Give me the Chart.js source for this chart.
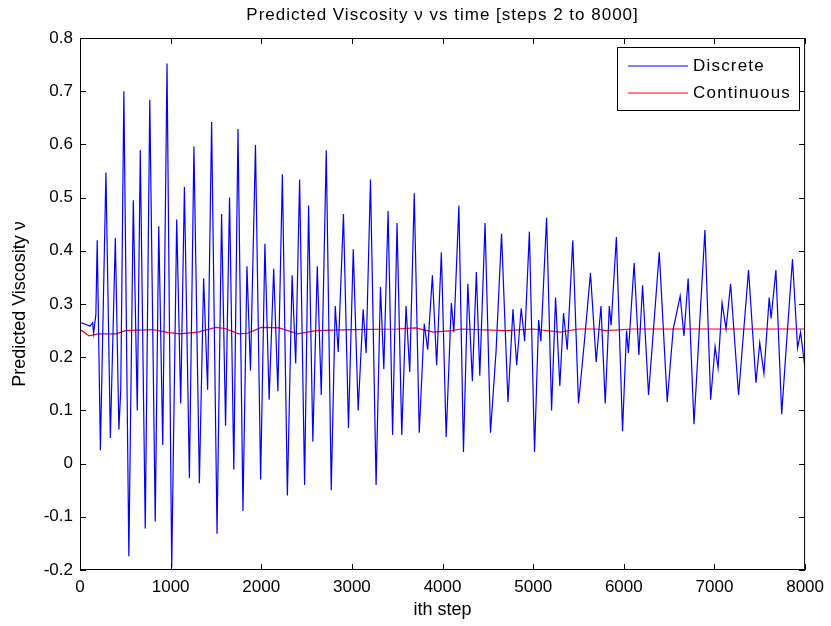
<!DOCTYPE html>
<html>
<head>
<meta charset="utf-8">
<script src="https://cdn.jsdelivr.net/npm/chart.js@4/dist/chart.umd.min.js"></script>
<style>
  html, body { margin: 0; padding: 0; background: #fff; }
  #wrap { width: 831px; height: 626px; }
</style>
</head>
<body>
<div id="wrap"><canvas id="viscChart" width="831" height="626"></canvas></div>
<script>
// Discrete series: steps and values (peaks / troughs)
const discreteSteps = [2, 60, 110, 140, 150, 175, 190, 225, 286, 335, 390, 429, 450, 484, 539, 588, 632, 665, 720, 770,
  830, 869, 913, 960, 1012, 1067, 1111, 1152, 1207, 1257, 1317, 1364, 1408, 1452, 1512, 1562, 1606, 1650, 1697, 1743,
  1798, 1842, 1881, 1936, 1993, 2040, 2087, 2137, 2183, 2233, 2288, 2340, 2380, 2423, 2478, 2522, 2569, 2618, 2662, 2717,
  2772, 2816, 2849, 2907, 2962, 3015, 3069, 3124, 3157, 3205, 3267, 3315, 3352, 3399, 3449, 3498, 3550, 3597, 3638, 3688,
  3743, 3798, 3836, 3888, 3935, 3987, 4040, 4097, 4125, 4180, 4231, 4279, 4329, 4373, 4411, 4469, 4529, 4590, 4651, 4722,
  4777, 4818, 4868, 4906, 4958, 5015, 5060, 5085, 5148, 5203, 5247, 5294, 5335, 5376, 5437, 5500, 5560, 5632, 5695, 5748,
  5795, 5840, 5860, 5918, 5986, 6030, 6050, 6114, 6166, 6207, 6273, 6391, 6479, 6545, 6622, 6663, 6710, 6774, 6895, 6958,
  7007, 7040, 7084, 7128, 7178, 7266, 7376, 7458, 7500, 7546, 7604, 7625, 7678, 7742, 7790, 7861, 7917, 7950, 8000];
const discreteValues = [0.265, 0.262, 0.258, 0.265, 0.245, 0.28, 0.42, 0.025, 0.547, 0.048, 0.424, 0.064, 0.14, 0.70, -0.174, 0.495, 0.10, 0.589, -0.122, 0.684,
  -0.109, 0.446, 0.035, 0.752, -0.195, 0.459, 0.113, 0.52, -0.027, 0.596, -0.037, 0.348, 0.139, 0.642, -0.132, 0.469, 0.071, 0.50, -0.011, 0.629,
  -0.089, 0.371, 0.175, 0.599, -0.03, 0.413, 0.12, 0.366, 0.136, 0.544, -0.06, 0.354, 0.188, 0.534, -0.04, 0.485, 0.041, 0.371, 0.129, 0.589,
  -0.05, 0.296, 0.21, 0.469, 0.067, 0.403, 0.10, 0.29, 0.208, 0.534, -0.04, 0.332, 0.178, 0.475, 0.054, 0.452, 0.054, 0.296, 0.172, 0.508,
  0.058, 0.263, 0.214, 0.354, 0.185, 0.397, 0.05, 0.302, 0.247, 0.485, 0.022, 0.338, 0.155, 0.36, 0.165, 0.452, 0.058, 0.21, 0.432, 0.116,
  0.29, 0.185, 0.292, 0.23, 0.436, 0.022, 0.27, 0.23, 0.462, 0.10, 0.312, 0.146, 0.283, 0.214, 0.42, 0.113, 0.22, 0.358, 0.191, 0.296,
  0.113, 0.296, 0.26, 0.426, 0.061, 0.25, 0.208, 0.377, 0.204, 0.335, 0.129, 0.397, 0.116, 0.253, 0.315, 0.24, 0.348, 0.074, 0.439, 0.12,
  0.22, 0.18, 0.302, 0.253, 0.338, 0.129, 0.364, 0.152, 0.227, 0.169, 0.312, 0.273, 0.364, 0.093, 0.214, 0.384, 0.217, 0.247, 0.178];

// Continuous series
const continuousSteps = [2, 100, 200, 400, 500, 800, 950, 1100, 1300, 1500, 1600, 1750, 1850, 2000, 2200, 2400, 2600, 3000,
  3500, 3700, 3900, 4100, 4200, 4700, 5000, 5300, 5500, 5700, 5800, 6100, 8000];
const continuousValues = [0.252, 0.24, 0.244, 0.244, 0.25, 0.252, 0.247, 0.244, 0.247, 0.256, 0.254, 0.244, 0.245, 0.256, 0.255, 0.244, 0.25, 0.252,
  0.253, 0.255, 0.247, 0.25, 0.253, 0.25, 0.253, 0.247, 0.253, 0.253, 0.25, 0.253, 0.253];

// Axis ticks
const xTicks = [0, 1000, 2000, 3000, 4000, 5000, 6000, 7000, 8000];
const yTicks = [-0.2, -0.1, 0, 0.1, 0.2, 0.3, 0.4, 0.5, 0.6, 0.7, 0.8];

const FONT = '"Liberation Sans", Arial, sans-serif';

function toPoints(xs, ys) {
  return xs.map((x, i) => ({ x: x, y: ys[i] }));
}

// Draws the MATLAB style box, inward ticks, title and legend
const matlabFrame = {
  id: 'matlabFrame',
  afterDraw(chart) {
    const ctx = chart.ctx;
    const a = chart.chartArea;
    const xs = chart.scales.x;
    const ys = chart.scales.y;
    ctx.save();
    ctx.strokeStyle = '#000';
    ctx.lineWidth = 1;
    ctx.strokeRect(a.left + 0.5, a.top + 0.5, a.right - a.left - 1, a.bottom - a.top - 1);

    const len = 6;
    ctx.beginPath();
    xTicks.forEach(t => {
      const px = Math.round(xs.getPixelForValue(t)) + 0.5;
      ctx.moveTo(px, a.bottom); ctx.lineTo(px, a.bottom - len);
      ctx.moveTo(px, a.top); ctx.lineTo(px, a.top + len);
    });
    yTicks.forEach(t => {
      const py = Math.round(ys.getPixelForValue(t)) + 0.5;
      ctx.moveTo(a.left, py); ctx.lineTo(a.left + len, py);
      ctx.moveTo(a.right, py); ctx.lineTo(a.right - len, py);
    });
    ctx.stroke();

    // title
    ctx.fillStyle = '#000';
    ctx.font = '17px ' + FONT;
    ctx.letterSpacing = '1px';
    ctx.textAlign = 'center';
    ctx.textBaseline = 'middle';
    ctx.fillText('Predicted Viscosity \u03bd vs time [steps 2 to 8000]', (a.left + a.right) / 2, 15);

    // legend box
    const lx = 617, ly = 47, lw = 182, lh = 63;
    ctx.fillStyle = '#fff';
    ctx.fillRect(lx, ly, lw, lh);
    ctx.strokeStyle = '#000';
    ctx.strokeRect(lx + 0.5, ly + 0.5, lw, lh);
    ctx.font = '17px ' + FONT;
    ctx.letterSpacing = '1.2px';
    ctx.textAlign = 'left';
    chart.data.datasets.forEach((ds, i) => {
      const yy = ly + 19 + i * 27;
      ctx.strokeStyle = ds.borderColor;
      ctx.lineWidth = 1.2;
      ctx.beginPath();
      ctx.moveTo(lx + 11, yy); ctx.lineTo(lx + 71, yy);
      ctx.stroke();
      ctx.fillStyle = '#000';
      ctx.fillText(ds.label, lx + 76, yy);
    });
    ctx.letterSpacing = '0px';
    ctx.restore();
  }
};

function renderChart() {
  const ctx = document.getElementById('viscChart').getContext('2d');

  new Chart(ctx, {
    type: 'line',
    data: {
      datasets: [{
        label: 'Discrete',
        data: toPoints(discreteSteps, discreteValues),
        borderColor: '#0000ff',
        borderWidth: 1.2,
        pointRadius: 0,
        tension: 0
      }, {
        label: 'Continuous',
        data: toPoints(continuousSteps, continuousValues),
        borderColor: '#ff0000',
        borderWidth: 1.2,
        pointRadius: 0,
        tension: 0
      }]
    },
    options: {
      responsive: false,
      animation: false,
      layout: { padding: { top: 38, right: 22, left: 0, bottom: 0 } },
      plugins: {
        legend: { display: false },
        title: { display: false },
        tooltip: { enabled: false }
      },
      scales: {
        x: {
          type: 'linear',
          min: 0,
          max: 8000,
          afterBuildTicks: scale => { scale.ticks = xTicks.map(v => ({ value: v })); },
          afterFit: scale => { scale.height = 56; },
          grid: { display: false, drawTicks: false },
          border: { display: false },
          ticks: {
            padding: 7,
            color: '#000',
            font: { family: FONT, size: 17 },
            maxRotation: 0,
            callback: v => String(v)
          },
          title: {
            display: true,
            text: 'ith step',
            color: '#000',
            font: { family: FONT, size: 18 },
            padding: { top: 2, bottom: 5 }
          }
        },
        y: {
          min: -0.2,
          max: 0.8,
          afterBuildTicks: scale => { scale.ticks = yTicks.map(v => ({ value: v })); },
          afterFit: scale => { scale.width = 80; },
          grid: { display: false, drawTicks: false },
          border: { display: false },
          ticks: {
            padding: 7,
            color: '#000',
            font: { family: FONT, size: 17 },
            callback: v => {
              const r = Math.round(v * 10) / 10;
              return r === 0 ? '0' : String(r);
            }
          },
          title: {
            display: true,
            text: 'Predicted Viscosity \u03bd',
            color: '#000',
            font: { family: FONT, size: 18 },
            padding: { top: 9, bottom: 4 }
          }
        }
      }
    },
    plugins: [matlabFrame]
  });
}

document.addEventListener('DOMContentLoaded', renderChart);
</script>
</body>
</html>
